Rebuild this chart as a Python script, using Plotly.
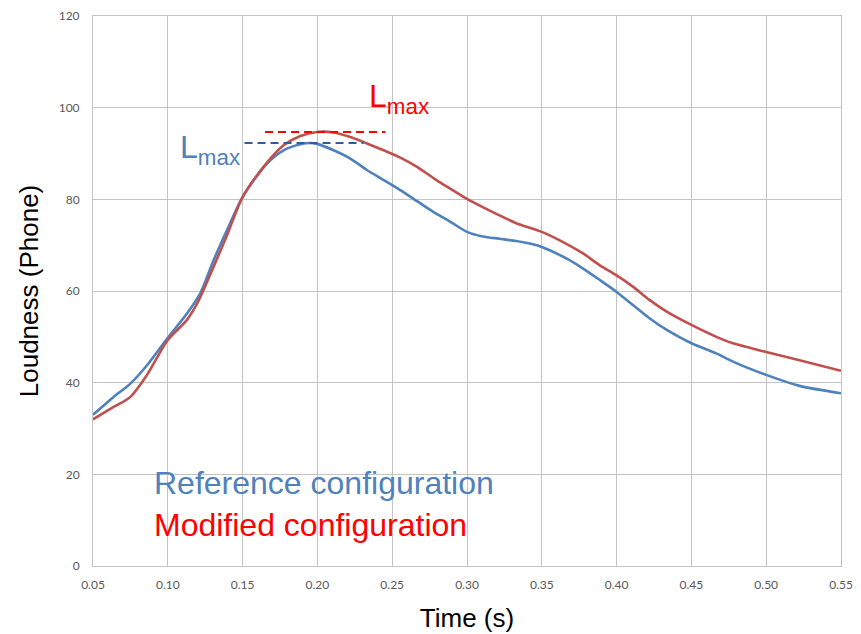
import plotly.graph_objects as go

# Loudness curves (time in s, loudness in phone)
t_ref = [0.050, 0.0535, 0.0638, 0.075, 0.0861, 0.100, 0.1128, 0.1217, 0.1306,
         0.1396, 0.150, 0.1663, 0.1774, 0.1886, 0.195, 0.1997, 0.2108, 0.222, 0.2331,
         0.2443, 0.2554, 0.2666, 0.2777, 0.2889, 0.300, 0.3105, 0.3217, 0.3329, 0.344,
         0.350, 0.3664, 0.3776, 0.3888, 0.400, 0.4111, 0.4222, 0.4335, 0.450, 0.4667,
         0.4778, 0.500, 0.5223, 0.550]
loud_ref = [33.0, 34.0, 36.9, 39.8, 43.8, 49.8, 55.1, 59.5, 66.7,
            73.3, 80.5, 87.8, 90.7, 92.0, 92.3, 92.1, 90.7, 88.9, 86.4,
            84.2, 82.0, 79.6, 77.2, 75.1, 72.9, 71.9, 71.4, 70.9, 70.2,
            69.6, 67.1, 64.9, 62.4, 59.8, 56.9, 54.0, 51.5, 48.6, 46.4,
            44.6, 41.7, 39.3, 37.7]

t_mod = [0.050, 0.0638, 0.075, 0.0861, 0.100, 0.1128, 0.120, 0.1306, 0.140,
         0.150, 0.1663, 0.1774, 0.1886, 0.1997, 0.2108, 0.222, 0.2331, 0.2443, 0.2554,
         0.2666, 0.280, 0.289, 0.300, 0.3105, 0.3217, 0.3329, 0.350, 0.3664, 0.3776,
         0.3888, 0.400, 0.4111, 0.4222, 0.4335, 0.450, 0.4667, 0.4778, 0.500, 0.5223,
         0.550]
loud_mod = [32.0, 34.7, 36.9, 41.7, 49.3, 53.7, 57.5, 65.3, 72.5,
            80.5, 88.0, 91.8, 93.8, 94.7, 94.6, 93.6, 92.2, 90.7, 89.1,
            87.1, 84.1, 82.3, 80.1, 78.3, 76.5, 74.8, 72.9, 70.3, 68.2,
            65.6, 63.4, 60.9, 58.0, 55.5, 52.6, 50.0, 48.6, 46.7, 44.9,
            42.6]

# Extent of the dashed Lmax markers along the time axis
lmax_ref_span = [0.1513, 0.2309]
lmax_mod_span = [0.165, 0.2454]

x_ticks = [0.05, 0.10, 0.15, 0.20, 0.25, 0.30, 0.35, 0.40, 0.45, 0.50, 0.55]
y_ticks = [0, 20, 40, 60, 80, 100, 120]

BLUE_LINE = "#4F81BD"
RED_LINE = "#C0504D"
BLUE_TEXT = "#4F81BD"
RED_TEXT = "#FF0000"

lmax_ref = max(loud_ref)
lmax_mod = max(loud_mod)

fig = go.Figure()
fig.add_trace(go.Scatter(x=t_ref, y=loud_ref, mode="lines",
                         line=dict(color=BLUE_LINE, width=2.6, shape="spline", smoothing=0.8),
                         name="Reference configuration"))
fig.add_trace(go.Scatter(x=t_mod, y=loud_mod, mode="lines",
                         line=dict(color=RED_LINE, width=2.6, shape="spline", smoothing=0.8),
                         name="Modified configuration"))
fig.add_trace(go.Scatter(x=lmax_ref_span, y=[lmax_ref, lmax_ref], mode="lines",
                         line=dict(color="#2E5C9E", width=2, dash="8px,5px")))
fig.add_trace(go.Scatter(x=lmax_mod_span, y=[lmax_mod, lmax_mod], mode="lines",
                         line=dict(color="#FF0000", width=2, dash="8px,5px")))

ann_font = "Liberation Sans, Arial, sans-serif"
fig.add_annotation(x=0.1068, y=90.9, xref="x", yref="y", xanchor="left", yanchor="middle",
                   text="L<sub>max</sub>", showarrow=False,
                   font=dict(family=ann_font, size=32, color=BLUE_TEXT))
fig.add_annotation(x=0.2330, y=102.0, xref="x", yref="y", xanchor="left", yanchor="middle",
                   text="L<sub>max</sub>", showarrow=False,
                   font=dict(family=ann_font, size=32, color=RED_TEXT))
fig.add_annotation(x=0.0895, y=18.2, xref="x", yref="y", xanchor="left", yanchor="middle",
                   text="Reference configuration", showarrow=False,
                   font=dict(family=ann_font, size=32, color=BLUE_TEXT))
fig.add_annotation(x=0.0895, y=9.0, xref="x", yref="y", xanchor="left", yanchor="middle",
                   text="Modified configuration", showarrow=False,
                   font=dict(family=ann_font, size=32, color=RED_TEXT))

tick_font = dict(family="Lato, Open Sans, sans-serif", size=12, color="#595959")
grid = "#C4C4C4"
fig.update_xaxes(range=[0.05, 0.55], tickvals=x_ticks, tickformat=".2f",
                 showgrid=True, gridcolor=grid, gridwidth=1,
                 showline=True, linecolor=grid, linewidth=1, mirror=True,
                 zeroline=False, ticks="", tickfont=tick_font, ticklabelstandoff=8,
                 automargin=False,
                 title=dict(text="Time (s)", standoff=17,
                            font=dict(family=ann_font, size=26, color="black")))
fig.update_yaxes(range=[0, 120], tickvals=y_ticks,
                 showgrid=True, gridcolor=grid, gridwidth=1,
                 showline=True, linecolor=grid, linewidth=1, mirror=True,
                 zeroline=False, ticks="", tickfont=tick_font, ticklabelstandoff=10,
                 automargin=False,
                 title=dict(text="Loudness (Phone)", standoff=12,
                            font=dict(family=ann_font, size=26, color="black")))

fig.update_layout(width=861, height=634, showlegend=False,
                  plot_bgcolor="white", paper_bgcolor="white",
                  margin=dict(l=93, r=20, t=16, b=68))

fig.write_html("out.html")
